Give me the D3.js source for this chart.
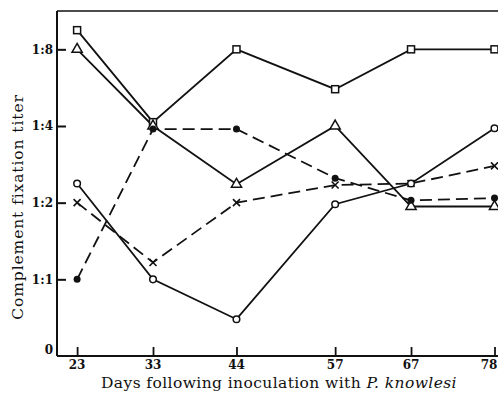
<!DOCTYPE html>
<html>
<head>
<meta charset="utf-8">
<script src="https://cdn.jsdelivr.net/npm/d3@7"></script>
<style>
  html, body { margin: 0; padding: 0; background: #fff; }
  svg { display: block; }
  text { font-family: "DejaVu Serif", "Liberation Serif", serif; fill: #111; }
</style>
</head>
<body>
<svg id="chart" width="498" height="402"></svg>
<script>
// ---- data ----
const days = [23, 33, 44, 57, 67, 78];
// titer levels on a log2 scale: 0 = "0", 1 = 1:1, 2 = 1:2, 3 = 1:4, 4 = 1:8
const squareSeries   = [4.25, 3.05, 4.0, 3.48, 4.0, 4.0];
const triangleSeries = [4.0, 3.0, 2.24, 3.0, 1.95, 1.95];
const dotSeries      = [1.0, 2.96, 2.96, 2.32, 2.03, 2.06];
const crossSeries    = [2.0, 1.22, 2.0, 2.23, 2.25, 2.48];
const circleSeries   = [2.25, 1.0, 0.48, 1.98, 2.25, 2.97];
const yTickLevels = [0, 1, 2, 3, 4];
const yTickLabels = ["0", "1:1", "1:2", "1:4", "1:8"];
const xTitle = "Days following inoculation with ";
const xTitleItalic = "P. knowlesi";
const yTitle = "Complement fixation titer";

const series = [
  { name: "square",   values: squareSeries,   dashed: false, marker: "square" },
  { name: "triangle", values: triangleSeries, dashed: false, marker: "triangle" },
  { name: "dot",      values: dotSeries,      dashed: true,  marker: "dot" },
  { name: "cross",    values: crossSeries,    dashed: true,  marker: "cross" },
  { name: "circle",   values: circleSeries,   dashed: false, marker: "circle" }
];

// ---- layout ----
const svg = d3.select("#chart");
const mLeft = 57, mTop = 11, mBottom = 356, mRight = 498;

const x = d3.scaleLinear().domain([20.35, 78.46]).range([mLeft, mRight]);
const y = d3.scaleLinear().domain([0, 4.5]).range([mBottom, mTop]);

// frame: left axis, bottom axis, top line
svg.append("line").attr("x1", mLeft).attr("x2", mLeft).attr("y1", mTop).attr("y2", mBottom)
  .attr("stroke", "#111").attr("stroke-width", 2);
svg.append("line").attr("x1", mLeft).attr("x2", mRight).attr("y1", mBottom).attr("y2", mBottom)
  .attr("stroke", "#111").attr("stroke-width", 2);
svg.append("line").attr("x1", mLeft).attr("x2", mRight).attr("y1", mTop).attr("y2", mTop)
  .attr("stroke", "#111").attr("stroke-width", 1.5);

// y ticks (inward)
const yAxis = d3.axisRight(y).tickValues(yTickLevels.filter(d => d > 0)).tickSize(9).tickFormat("");
const gy = svg.append("g").attr("transform", `translate(${mLeft},0)`).call(yAxis);
gy.select(".domain").remove();
gy.selectAll(".tick line").attr("stroke", "#111").attr("stroke-width", 2);

svg.append("g").selectAll("text").data(yTickLevels).join("text")
  .attr("x", 53)
  .attr("y", d => y(d) + (d === 0 ? -6 : 0))
  .attr("dy", "0.35em")
  .attr("text-anchor", "end")
  .attr("font-size", 12)
  .attr("font-weight", "bold")
  .text((d, i) => yTickLabels[i]);

// x ticks (inward)
const xAxis = d3.axisTop(x).tickValues(days).tickSize(9).tickFormat("");
const gx = svg.append("g").attr("transform", `translate(0,${mBottom})`).call(xAxis);
gx.select(".domain").remove();
gx.selectAll(".tick line").attr("stroke", "#111").attr("stroke-width", 1.8);

svg.append("g").selectAll("text").data(days).join("text")
  .attr("x", d => Math.min(x(d), mRight - 9))
  .attr("y", 369)
  .attr("text-anchor", "middle")
  .attr("font-size", 12)
  .attr("font-weight", "bold")
  .text(d => d);

// titles
const xt = svg.append("text").attr("x", 279).attr("y", 388)
  .attr("text-anchor", "middle").attr("font-size", 15.5)
  .attr("letter-spacing", 0.4);
xt.append("tspan").text(xTitle);
xt.append("tspan").attr("font-style", "italic").text(xTitleItalic);

svg.append("text")
  .attr("transform", `translate(23,207) rotate(-90)`)
  .attr("text-anchor", "middle")
  .attr("font-size", 15.5)
  .attr("letter-spacing", 0.9)
  .text(yTitle);

// lines
const line = d3.line().x((d, i) => x(days[i])).y(d => y(d));
svg.append("g").selectAll("path").data(series).join("path")
  .attr("d", s => line(s.values))
  .attr("fill", "none")
  .attr("stroke", "#111")
  .attr("stroke-width", 1.8)
  .attr("stroke-dasharray", s => s.dashed ? "12,6" : null);

// markers
series.forEach(s => {
  const g = svg.append("g");
  s.values.forEach((v, i) => {
    const cx = x(days[i]), cy = y(v);
    if (s.marker === "square") {
      g.append("rect").attr("x", cx - 3.5).attr("y", cy - 3.5).attr("width", 7).attr("height", 7)
        .attr("fill", "#fff").attr("stroke", "#111").attr("stroke-width", 1.5);
    } else if (s.marker === "triangle") {
      g.append("path").attr("d", d3.symbol(d3.symbolTriangle, 45)())
        .attr("transform", `translate(${cx},${cy})`)
        .attr("fill", "#fff").attr("stroke", "#111").attr("stroke-width", 1.5);
    } else if (s.marker === "dot") {
      g.append("circle").attr("cx", cx).attr("cy", cy).attr("r", 3.5).attr("fill", "#111");
    } else if (s.marker === "circle") {
      g.append("circle").attr("cx", cx).attr("cy", cy).attr("r", 3.3)
        .attr("fill", "#fff").attr("stroke", "#111").attr("stroke-width", 1.5);
    } else if (s.marker === "cross") {
      g.append("path").attr("d", `M${cx-3.5},${cy-3.5}L${cx+3.5},${cy+3.5}M${cx-3.5},${cy+3.5}L${cx+3.5},${cy-3.5}`)
        .attr("stroke", "#111").attr("stroke-width", 1.6);
    }
  });
});
</script>
</body>
</html>
